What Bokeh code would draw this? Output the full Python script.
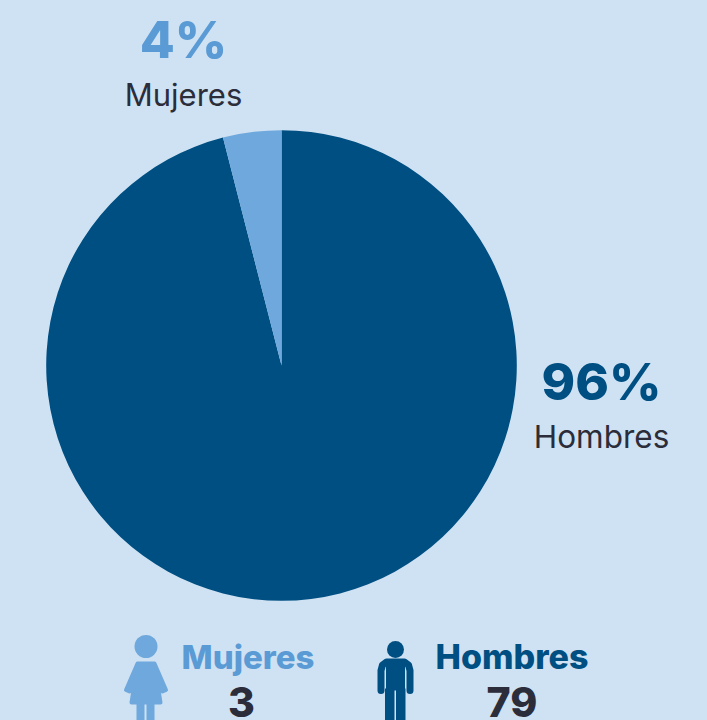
import math
from bokeh.plotting import figure
from bokeh.models import Range1d
from bokeh.core.properties import value
from bokeh.embed import file_html
from bokeh.resources import INLINE

categories = ["Hombres", "Mujeres"]
shares = [96, 4]
counts = [79, 3]
share_labels = ["96%", "4%"]
colors = ["#004f82", "#6fa8dc"]
label_colors = ["#004f82", "#5b9bd5"]
BG = "#cfe2f3"
DARK = "#2b2d3a"
W, H = 707, 720
FONT = "Inter"
HEAVY = "Inter ExtraBold"

p = figure(width=W, height=H, output_backend="svg", toolbar_location=None,
           x_range=Range1d(0, W), y_range=Range1d(H, 0), min_border=0,
           background_fill_color=BG, border_fill_color=BG, outline_line_color=None)
p.axis.visible = False
p.grid.visible = False

# Pie: clockwise from 12 o'clock
cx, cy, r = 281, 365, 235.3
total = sum(shares)
ang = math.pi / 2
for s, c in zip(shares, colors):
    end = ang - s / total * 2 * math.pi
    p.wedge(x=[cx], y=[cy], radius=r, start_angle=[ang], end_angle=[end],
            direction="clock", fill_color=c, line_color=None)
    ang = end

def text(x, y, t, size, color, font=FONT):
    p.text(x=[x], y=[y - 0.38 * size], text=[t], text_font=value(font), text_font_size=f"{size}px",
           text_color=color, text_font_style="normal" if font == FONT else "bold",
           text_align="center", text_baseline="alphabetic")

# Share labels
text(601, 400, share_labels[0], 51, label_colors[0], HEAVY)
text(601, 448, categories[0], 31.5, DARK)
text(183, 58, share_labels[1], 51, label_colors[1], HEAVY)
text(183, 106, categories[1], 31, DARK)

# Counts
text(247.5, 669, categories[1], 33, label_colors[1], HEAVY)
text(241, 717, str(counts[1]), 41, DARK, HEAVY)
text(511.5, 669, categories[0], 34, label_colors[0], HEAVY)
text(511.5, 717, str(counts[0]), 41, DARK, HEAVY)

# Woman pictogram
wc = colors[1]
p.circle(x=[145.5], y=[646], radius=11.5, fill_color=wc, line_color=None)
p.patch(x=[137, 154, 165.5, 162, 157, 160, 131, 134, 129, 125.5],
        y=[663, 663, 689.5, 691, 683, 702, 702, 683, 691, 689.5],
        fill_color=wc, line_color=wc, line_width=4, line_join="round")
p.quad(left=[136, 146], right=[144, 154], top=[702, 702], bottom=[720, 720], fill_color=wc, line_color=None)

# Man pictogram
mc = colors[0]
p.circle(x=[395], y=[649], radius=8.5, fill_color=mc, line_color=None)
p.line(x=[380.5, 380.5, 382, 386, 404, 408, 409.5, 409.5],
       y=[690, 670, 664.5, 661.5, 661.5, 664.5, 670, 690],
       line_color=mc, line_width=7, line_cap="round", line_join="round")
p.quad(left=[385.5], right=[404.5], top=[660], bottom=[690], fill_color=mc, line_color=None)
p.quad(left=[384.5, 395.5], right=[394, 405], top=[688, 688], bottom=[720, 720], fill_color=mc, line_color=None)

html = file_html(p, INLINE)
html = html.replace("<head>", f"<head><style>html,body{{margin:0;padding:0;overflow:hidden;background:{BG}}}</style>", 1)
open("out.html", "w").write(html)
